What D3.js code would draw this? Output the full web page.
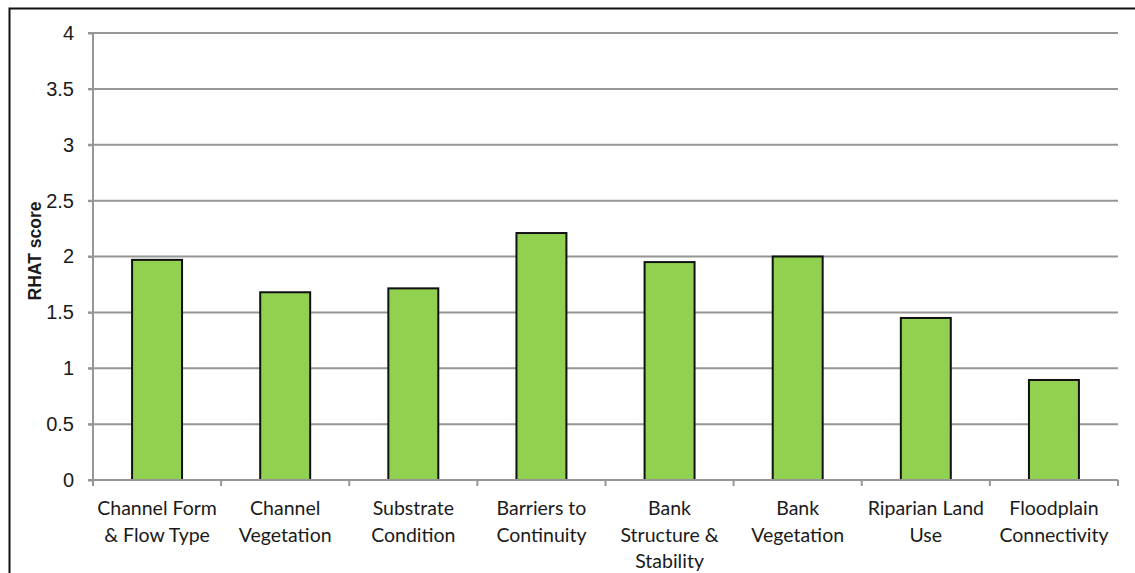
<!DOCTYPE html>
<html>
<head>
<meta charset="utf-8">
<script src="https://cdn.jsdelivr.net/npm/d3@7"></script>
<style>
  body { margin: 0; background: #fff; }
  svg { display: block; }
</style>
</head>
<body>
<div id="chart"></div>
<script>
const categories = ["Channel Form & Flow Type", "Channel Vegetation", "Substrate Condition",
  "Barriers to Continuity", "Bank Structure & Stability", "Bank Vegetation",
  "Riparian Land Use", "Floodplain Connectivity"];
// how each category label wraps in the picture
const labelLines = [
  ["Channel Form", "& Flow Type"],
  ["Channel", "Vegetation"],
  ["Substrate", "Condition"],
  ["Barriers to", "Continuity"],
  ["Bank", "Structure &", "Stability"],
  ["Bank", "Vegetation"],
  ["Riparian Land", "Use"],
  ["Floodplain", "Connectivity"]
];
const scores = [1.97, 1.68, 1.715, 2.21, 1.95, 2.0, 1.45, 0.895];
const yTicks = [0, 0.5, 1, 1.5, 2, 2.5, 3, 3.5, 4];

const width = 1135, height = 573;
const margin = {top: 33, right: 17, bottom: 93, left: 93};

const svg = d3.select("#chart").append("svg")
  .attr("width", width)
  .attr("height", height);

// outer frame, only top and left edges fall in the window
svg.append("rect")
  .attr("x", 9.5).attr("y", 8.5)
  .attr("width", 1300).attr("height", 700)
  .attr("fill", "none")
  .attr("stroke", "#111")
  .attr("stroke-width", 2);

const x = d3.scaleBand()
  .domain(categories)
  .range([margin.left, width - margin.right])
  .paddingInner(0.61)
  .paddingOuter(0.305);

const y = d3.scaleLinear()
  .domain([0, 4])
  .range([height - margin.bottom, margin.top]);

// gridlines
svg.append("g")
  .selectAll("line")
  .data(yTicks.filter(d => d > 0))
  .join("line")
    .attr("x1", margin.left - 5)
    .attr("x2", width - margin.right)
    .attr("y1", d => y(d))
    .attr("y2", d => y(d))
    .attr("stroke", "#969696")
    .attr("stroke-width", 2);

// y axis
const yAxis = svg.append("g")
  .attr("transform", `translate(${margin.left},0)`)
  .call(d3.axisLeft(y).tickValues(yTicks).tickSize(5).tickPadding(14).tickFormat(d3.format("")));
yAxis.selectAll("line, path").attr("stroke", "#969696").attr("stroke-width", 2);
yAxis.select(".domain").attr("d", `M-5,${y(0)}H0V${y(4)}`);
yAxis.selectAll("text")
  .attr("font-family", "Liberation Sans, Arial, sans-serif")
  .attr("font-size", 20)
  .attr("fill", "#1a1a1a");

// y axis title
svg.append("text")
  .attr("transform", "translate(41,251) rotate(-90)")
  .attr("text-anchor", "middle")
  .attr("font-family", "Liberation Sans, Arial, sans-serif")
  .attr("font-weight", "bold")
  .attr("font-size", 17.5)
  .attr("fill", "#1a1a1a")
  .text("RHAT score");

// bars
svg.append("g")
  .selectAll("rect")
  .data(scores)
  .join("rect")
    .attr("x", (d, i) => x(categories[i]))
    .attr("y", d => y(d))
    .attr("width", x.bandwidth())
    .attr("height", d => y(0) - y(d))
    .attr("fill", "#92d050")
    .attr("stroke", "#111")
    .attr("stroke-width", 2);

// x axis with tick marks at band edges
const step = x.step();
const xAxis = svg.append("g")
  .attr("transform", `translate(0,${y(0)})`);
xAxis.append("line")
  .attr("x1", margin.left).attr("x2", width - margin.right)
  .attr("stroke", "#969696").attr("stroke-width", 2);
xAxis.selectAll(".tick")
  .data(d3.range(categories.length + 1))
  .join("line")
    .attr("class", "tick")
    .attr("x1", i => margin.left + i * step)
    .attr("x2", i => margin.left + i * step)
    .attr("y1", 0).attr("y2", 6)
    .attr("stroke", "#969696").attr("stroke-width", 2);

const labels = xAxis.selectAll(".label")
  .data(labelLines)
  .join("text")
    .attr("class", "label")
    .attr("text-anchor", "middle")
    .attr("font-family", "Lato, 'Noto Sans', sans-serif")
    .attr("font-size", 19.5)
    .attr("fill", "#1a1a1a")
    .attr("transform", (d, i) => `translate(${x(categories[i]) + x.bandwidth() / 2},35)`);
labels.selectAll("tspan")
  .data(d => d)
  .join("tspan")
    .attr("x", 0)
    .attr("y", (d, j) => j * 26.5)
    .text(d => d);
</script>
</body>
</html>
